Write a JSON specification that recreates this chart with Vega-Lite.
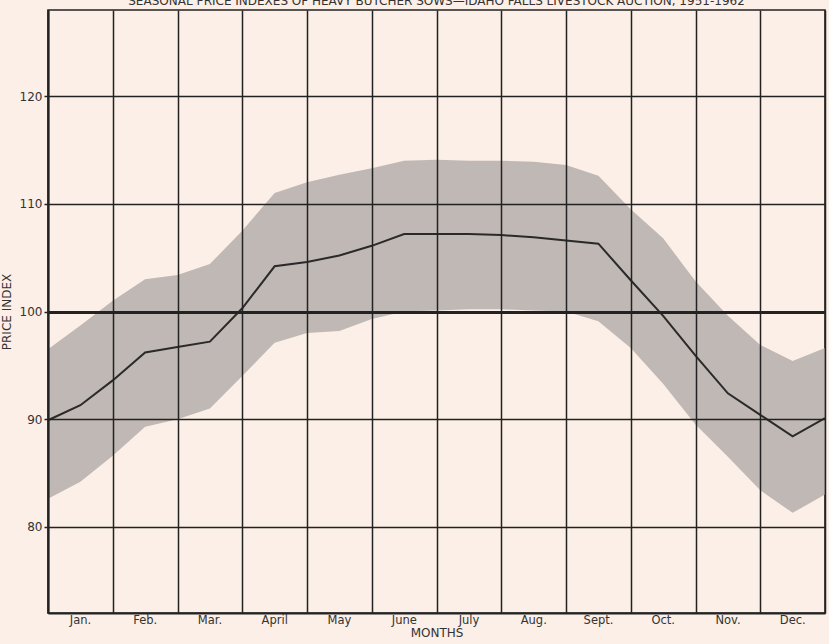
{
  "$schema": "https://vega.github.io/schema/vega-lite/v6.json",
  "autosize": {"type": "none"},
  "width": 777,
  "height": 603,
  "padding": {"left": 48, "top": 10, "right": 4, "bottom": 31},
  "background": "#fbefe7",
  "title": {
    "text": "SEASONAL PRICE INDEXES OF HEAVY BUTCHER SOWS\u2014IDAHO FALLS LIVESTOCK AUCTION, 1951-1962",
    "fontSize": 12,
    "font": "DejaVu Sans",
    "fontWeight": "normal",
    "color": "#333",
    "anchor": "middle",
    "offset": 2
  },
  "config": {
    "view": {"stroke": "#222", "strokeWidth": 1.6},
    "axis": {"labelFont": "DejaVu Sans", "titleFont": "DejaVu Sans", "labelColor": "#333", "titleColor": "#333", "zindex": 1}
  },
  "data": {
    "values": [
      {"t": 0, "index": 89.9, "low": 82.6, "high": 96.5},
      {"t": 0.5, "index": 91.3, "low": 84.2, "high": 98.7},
      {"t": 1, "index": 93.6, "low": 86.6, "high": 101.0},
      {"t": 1.5, "index": 96.2, "low": 89.3, "high": 103.0},
      {"t": 2, "index": 96.7, "low": 90.0, "high": 103.4},
      {"t": 2.5, "index": 97.2, "low": 91.0, "high": 104.4},
      {"t": 3, "index": 100.3, "low": 94.0, "high": 107.5},
      {"t": 3.5, "index": 104.2, "low": 97.1, "high": 111.0},
      {"t": 4, "index": 104.6, "low": 98.0, "high": 112.0},
      {"t": 4.5, "index": 105.2, "low": 98.2, "high": 112.7},
      {"t": 5, "index": 106.1, "low": 99.3, "high": 113.3},
      {"t": 5.5, "index": 107.2, "low": 100.0, "high": 114.0},
      {"t": 6, "index": 107.2, "low": 100.1, "high": 114.1},
      {"t": 6.5, "index": 107.2, "low": 100.2, "high": 114.0},
      {"t": 7, "index": 107.1, "low": 100.2, "high": 114.0},
      {"t": 7.5, "index": 106.9, "low": 100.1, "high": 113.9},
      {"t": 8, "index": 106.6, "low": 100.0, "high": 113.6},
      {"t": 8.5, "index": 106.3, "low": 99.1, "high": 112.6},
      {"t": 9, "index": 102.9, "low": 96.6, "high": 109.5},
      {"t": 9.5, "index": 99.6, "low": 93.3, "high": 106.8},
      {"t": 10, "index": 95.9, "low": 89.5, "high": 102.8},
      {"t": 10.5, "index": 92.4, "low": 86.5, "high": 99.6},
      {"t": 11, "index": 90.4, "low": 83.4, "high": 96.9},
      {"t": 11.5, "index": 88.4, "low": 81.3, "high": 95.4},
      {"t": 12, "index": 90.1, "low": 83.0, "high": 96.6}
    ]
  },
  "encoding": {
    "x": {
      "field": "t",
      "type": "quantitative",
      "scale": {"domain": [0, 12], "nice": false, "zero": false},
      "axis": {
        "zindex": 1,
        "title": "MONTHS",
        "titleFontSize": 12,
        "titleFontWeight": "normal",
        "titlePadding": 2,
        "values": [0, 1, 2, 3, 4, 5, 6, 7, 8, 9, 10, 11, 12],
        "labelExpr": "['Jan.','Feb.','Mar.','April','May','June','July','Aug.','Sept.','Oct.','Nov.','Dec.',''][datum.value]",
        "labelOffset": 32,
        "labelFontSize": 11.5,
        "labelPadding": 1,
        "labelFlush": false,
        "labelOverlap": false,
        "labelBound": false,
        "ticks": false,
        "grid": true,
        "gridColor": "#222",
        "gridWidth": 1.5,
        "gridOpacity": 1,
        "domainColor": "#222",
        "domainWidth": 2
      }
    }
  },
  "layer": [
    {
      "mark": {"type": "area", "color": "#b5aeaa", "opacity": 0.85},
      "encoding": {
        "y": {
          "field": "low",
          "type": "quantitative",
          "scale": {"domain": [72, 128], "nice": false, "zero": false},
          "axis": {
            "zindex": 1,
            "title": "PRICE INDEX",
            "titleFontSize": 12,
            "titleFontWeight": "normal",
            "titlePadding": 6,
            "values": [80, 90, 100, 110, 120],
            "labelFontSize": 12,
            "labelPadding": 2,
            "tickSize": 4,
            "tickColor": "#222",
            "tickWidth": 1.5,
            "grid": true,
            "gridColor": "#222",
            "gridOpacity": 1,
            "gridWidth": {"condition": {"test": "datum.value === 100", "value": 3}, "value": 1.5},
            "domainColor": "#222",
            "domainWidth": 2
          }
        },
        "y2": {"field": "high"}
      }
    },
    {
      "mark": {"type": "line", "color": "#2a2a2a", "strokeWidth": 2},
      "encoding": {
        "y": {"field": "index", "type": "quantitative"}
      }
    }
  ]
}
